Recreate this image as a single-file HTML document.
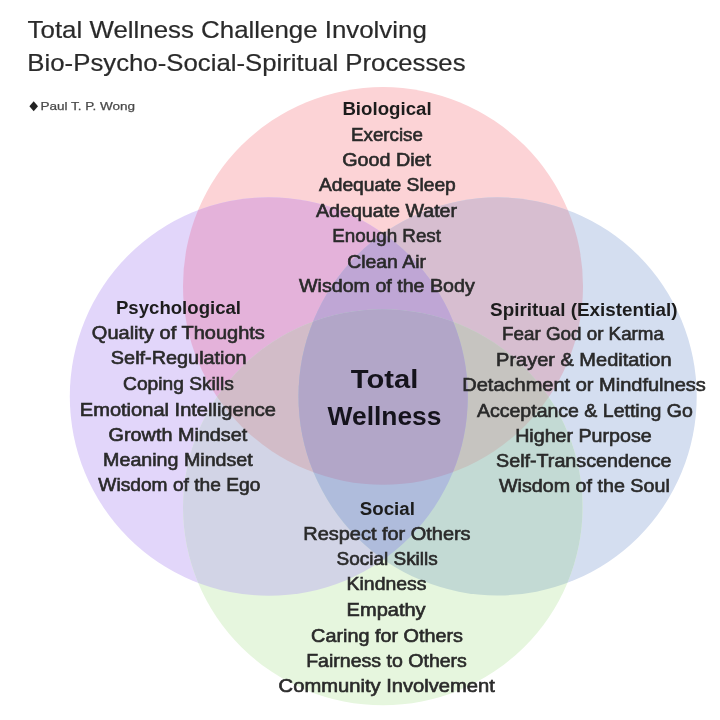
<!DOCTYPE html>
<html><head><meta charset="utf-8"><style>
html,body{margin:0;padding:0;background:#fff;}
svg{display:block;font-family:"Liberation Sans",sans-serif;filter:blur(0.35px);}
</style></head><body>
<svg width="720" height="720" viewBox="0 0 720 720">
<defs><clipPath id="cP"><ellipse cx="383" cy="285.9" rx="200" ry="198.8"/></clipPath><clipPath id="cU"><ellipse cx="268.8" cy="396.5" rx="199.0" ry="199.3"/></clipPath><clipPath id="cB"><ellipse cx="497.6" cy="396.4" rx="199.1" ry="199.1"/></clipPath><clipPath id="cG"><ellipse cx="382.8" cy="507.2" rx="199.8" ry="198.0"/></clipPath></defs>
<rect width="720" height="720" fill="#fff"/>
<ellipse cx="383" cy="285.9" rx="200" ry="198.8" fill="#FCD3D6"/>
<ellipse cx="268.8" cy="396.5" rx="199.0" ry="199.3" fill="#E2D6FA"/>
<ellipse cx="497.6" cy="396.4" rx="199.1" ry="199.1" fill="#D4DEF0"/>
<ellipse cx="382.8" cy="507.2" rx="199.8" ry="198.0" fill="#E6F6DE"/>
<g clip-path="url(#cU)"><ellipse cx="383" cy="285.9" rx="200" ry="198.8" fill="#E4B2DA"/></g>
<g clip-path="url(#cB)"><ellipse cx="383" cy="285.9" rx="200" ry="198.8" fill="#D7BED0"/></g>
<g clip-path="url(#cG)"><ellipse cx="383" cy="285.9" rx="200" ry="198.8" fill="#D8C8C8"/></g>
<g clip-path="url(#cB)"><ellipse cx="268.8" cy="396.5" rx="199.0" ry="199.3" fill="#B8B8E0"/></g>
<g clip-path="url(#cG)"><ellipse cx="268.8" cy="396.5" rx="199.0" ry="199.3" fill="#D2D4E6"/></g>
<g clip-path="url(#cG)"><ellipse cx="497.6" cy="396.4" rx="199.1" ry="199.1" fill="#C3DAD4"/></g>
<g clip-path="url(#cB)"><g clip-path="url(#cU)"><ellipse cx="383" cy="285.9" rx="200" ry="198.8" fill="#BFA6D5"/></g></g>
<g clip-path="url(#cG)"><g clip-path="url(#cU)"><ellipse cx="383" cy="285.9" rx="200" ry="198.8" fill="#D2BCC8"/></g></g>
<g clip-path="url(#cG)"><g clip-path="url(#cB)"><ellipse cx="383" cy="285.9" rx="200" ry="198.8" fill="#C6C4C0"/></g></g>
<g clip-path="url(#cG)"><g clip-path="url(#cB)"><ellipse cx="268.8" cy="396.5" rx="199.0" ry="199.3" fill="#AFBCDC"/></g></g>
<g clip-path="url(#cG)"><g clip-path="url(#cB)"><g clip-path="url(#cU)"><ellipse cx="383" cy="285.9" rx="200" ry="198.8" fill="#B2A6C8"/></g></g></g>
<text x="387.00" y="114.9" textLength="89.20" lengthAdjust="spacingAndGlyphs" font-size="17.5" fill="#1c1c1c" text-anchor="middle" font-weight="bold">Biological</text>
<text x="386.94" y="141.0" textLength="71.72" lengthAdjust="spacingAndGlyphs" font-size="17.7" fill="#2a2a2a" text-anchor="middle" stroke="#2a2a2a" stroke-width="0.6">Exercise</text>
<text x="386.60" y="165.5" textLength="88.80" lengthAdjust="spacingAndGlyphs" font-size="17.7" fill="#2a2a2a" text-anchor="middle" stroke="#2a2a2a" stroke-width="0.6">Good Diet</text>
<text x="387.35" y="191.1" textLength="136.90" lengthAdjust="spacingAndGlyphs" font-size="17.7" fill="#2a2a2a" text-anchor="middle" stroke="#2a2a2a" stroke-width="0.6">Adequate Sleep</text>
<text x="386.55" y="216.5" textLength="141.10" lengthAdjust="spacingAndGlyphs" font-size="17.7" fill="#2a2a2a" text-anchor="middle" stroke="#2a2a2a" stroke-width="0.6">Adequate Water</text>
<text x="386.65" y="241.5" textLength="108.70" lengthAdjust="spacingAndGlyphs" font-size="17.7" fill="#2a2a2a" text-anchor="middle" stroke="#2a2a2a" stroke-width="0.6">Enough Rest</text>
<text x="386.60" y="267.5" textLength="78.80" lengthAdjust="spacingAndGlyphs" font-size="17.7" fill="#2a2a2a" text-anchor="middle" stroke="#2a2a2a" stroke-width="0.6">Clean Air</text>
<text x="386.89" y="292.0" textLength="175.78" lengthAdjust="spacingAndGlyphs" font-size="17.7" fill="#2a2a2a" text-anchor="middle" stroke="#2a2a2a" stroke-width="0.6">Wisdom of the Body</text>
<text x="178.50" y="314.4" textLength="125.08" lengthAdjust="spacingAndGlyphs" font-size="17.5" fill="#1c1c1c" text-anchor="middle" font-weight="bold">Psychological</text>
<text x="178.33" y="339.3" textLength="172.94" lengthAdjust="spacingAndGlyphs" font-size="17.7" fill="#2a2a2a" text-anchor="middle" stroke="#2a2a2a" stroke-width="0.6">Quality of Thoughts</text>
<text x="178.72" y="364.4" textLength="135.72" lengthAdjust="spacingAndGlyphs" font-size="17.7" fill="#2a2a2a" text-anchor="middle" stroke="#2a2a2a" stroke-width="0.6">Self-Regulation</text>
<text x="178.50" y="389.7" textLength="110.80" lengthAdjust="spacingAndGlyphs" font-size="17.7" fill="#2a2a2a" text-anchor="middle" stroke="#2a2a2a" stroke-width="0.6">Coping Skills</text>
<text x="177.93" y="415.9" textLength="196.18" lengthAdjust="spacingAndGlyphs" font-size="17.7" fill="#2a2a2a" text-anchor="middle" stroke="#2a2a2a" stroke-width="0.6">Emotional Intelligence</text>
<text x="177.93" y="440.9" textLength="138.78" lengthAdjust="spacingAndGlyphs" font-size="17.7" fill="#2a2a2a" text-anchor="middle" stroke="#2a2a2a" stroke-width="0.6">Growth Mindset</text>
<text x="177.93" y="466.3" textLength="149.70" lengthAdjust="spacingAndGlyphs" font-size="17.7" fill="#2a2a2a" text-anchor="middle" stroke="#2a2a2a" stroke-width="0.6">Meaning Mindset</text>
<text x="179.35" y="491.4" textLength="162.02" lengthAdjust="spacingAndGlyphs" font-size="17.7" fill="#2a2a2a" text-anchor="middle" stroke="#2a2a2a" stroke-width="0.6">Wisdom of the Ego</text>
<text x="583.83" y="315.5" textLength="187.50" lengthAdjust="spacingAndGlyphs" font-size="17.5" fill="#1c1c1c" text-anchor="middle" font-weight="bold">Spiritual (Existential)</text>
<text x="583.03" y="340.1" textLength="161.90" lengthAdjust="spacingAndGlyphs" font-size="17.7" fill="#2a2a2a" text-anchor="middle" stroke="#2a2a2a" stroke-width="0.6">Fear God or Karma</text>
<text x="583.83" y="365.6" textLength="175.50" lengthAdjust="spacingAndGlyphs" font-size="17.7" fill="#2a2a2a" text-anchor="middle" stroke="#2a2a2a" stroke-width="0.6">Prayer &amp; Meditation</text>
<text x="584.05" y="391.1" textLength="243.50" lengthAdjust="spacingAndGlyphs" font-size="17.7" fill="#2a2a2a" text-anchor="middle" stroke="#2a2a2a" stroke-width="0.6">Detachment or Mindfulness</text>
<text x="584.90" y="416.5" textLength="215.80" lengthAdjust="spacingAndGlyphs" font-size="17.7" fill="#2a2a2a" text-anchor="middle" stroke="#2a2a2a" stroke-width="0.6">Acceptance &amp; Letting Go</text>
<text x="583.43" y="441.6" textLength="136.50" lengthAdjust="spacingAndGlyphs" font-size="17.7" fill="#2a2a2a" text-anchor="middle" stroke="#2a2a2a" stroke-width="0.6">Higher Purpose</text>
<text x="583.83" y="467.1" textLength="175.50" lengthAdjust="spacingAndGlyphs" font-size="17.7" fill="#2a2a2a" text-anchor="middle" stroke="#2a2a2a" stroke-width="0.6">Self-Transcendence</text>
<text x="584.40" y="491.9" textLength="170.80" lengthAdjust="spacingAndGlyphs" font-size="17.7" fill="#2a2a2a" text-anchor="middle" stroke="#2a2a2a" stroke-width="0.6">Wisdom of the Soul</text>
<text x="387.34" y="514.9" textLength="55.16" lengthAdjust="spacingAndGlyphs" font-size="17.5" fill="#1c1c1c" text-anchor="middle" font-weight="bold">Social</text>
<text x="386.94" y="540.0" textLength="167.28" lengthAdjust="spacingAndGlyphs" font-size="17.7" fill="#2a2a2a" text-anchor="middle" stroke="#2a2a2a" stroke-width="0.6">Respect for Others</text>
<text x="387.16" y="565.2" textLength="101.24" lengthAdjust="spacingAndGlyphs" font-size="17.7" fill="#2a2a2a" text-anchor="middle" stroke="#2a2a2a" stroke-width="0.6">Social Skills</text>
<text x="386.54" y="590.1" textLength="79.84" lengthAdjust="spacingAndGlyphs" font-size="17.7" fill="#2a2a2a" text-anchor="middle" stroke="#2a2a2a" stroke-width="0.6">Kindness</text>
<text x="386.14" y="616.0" textLength="79.04" lengthAdjust="spacingAndGlyphs" font-size="17.7" fill="#2a2a2a" text-anchor="middle" stroke="#2a2a2a" stroke-width="0.6">Empathy</text>
<text x="387.06" y="641.6" textLength="151.92" lengthAdjust="spacingAndGlyphs" font-size="17.7" fill="#2a2a2a" text-anchor="middle" stroke="#2a2a2a" stroke-width="0.6">Caring for Others</text>
<text x="386.54" y="666.8" textLength="160.72" lengthAdjust="spacingAndGlyphs" font-size="17.7" fill="#2a2a2a" text-anchor="middle" stroke="#2a2a2a" stroke-width="0.6">Fairness to Others</text>
<text x="386.76" y="692.4" textLength="216.24" lengthAdjust="spacingAndGlyphs" font-size="17.7" fill="#2a2a2a" text-anchor="middle" stroke="#2a2a2a" stroke-width="0.6">Community Involvement</text>
<text x="384.53" y="387.9" textLength="67.50" lengthAdjust="spacingAndGlyphs" font-size="26" fill="#15131c" text-anchor="middle" font-weight="bold">Total</text>
<text x="384.52" y="424.9" textLength="113.92" lengthAdjust="spacingAndGlyphs" font-size="26" fill="#15131c" text-anchor="middle" font-weight="bold">Wellness</text>
<text x="227.23" y="38.0" textLength="399.18" lengthAdjust="spacingAndGlyphs" font-size="24" fill="#2a2a2a" text-anchor="middle" stroke="#2a2a2a" stroke-width="0.2">Total Wellness Challenge Involving</text>
<text x="246.48" y="71.0" textLength="438.20" lengthAdjust="spacingAndGlyphs" font-size="24" fill="#2a2a2a" text-anchor="middle" stroke="#2a2a2a" stroke-width="0.2">Bio-Psycho-Social-Spiritual Processes</text>
<text x="87.78" y="109.9" textLength="94.72" lengthAdjust="spacingAndGlyphs" font-size="11" fill="#4a4a4a" text-anchor="middle" stroke="#4a4a4a" stroke-width="0.25">Paul T. P. Wong</text>
<path d="M33.7 101.2 L38 106.2 L33.7 111.3 L29.4 106.2 Z" fill="#222"/>
</svg>
</body></html>
